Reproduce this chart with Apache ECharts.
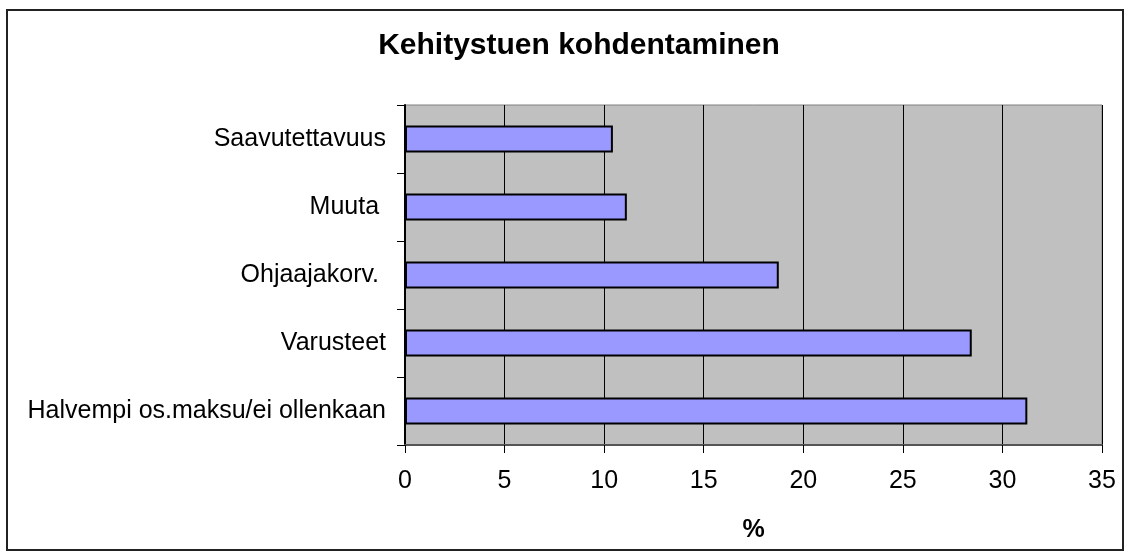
<!DOCTYPE html>
<html>
<head>
<meta charset="utf-8">
<script src="https://cdn.jsdelivr.net/npm/echarts@6/dist/echarts.min.js"></script>
<style>
  html, body { margin: 0; padding: 0; background: #fff; }
  #chart { width: 1130px; height: 560px; }
</style>
</head>
<body>
<div id="chart"></div>
<script type="text/javascript">
    // bottom to top, as ECharts lays out a category y axis
    var categories = ['Halvempi os.maksu/ei ollenkaan', 'Varusteet', 'Ohjaajakorv. ', 'Muuta ', 'Saavutettavuus'];
    var values = [31.25, 28.46, 18.77, 11.14, 10.44];
    var xTicks = [0, 5, 10, 15, 20, 25, 30, 35];

    var chart = echarts.init(document.getElementById('chart'));
    var font = '"Liberation Sans", Arial, sans-serif';

    var option = {
        animation: false,
        backgroundColor: '#fff',
        title: {
            text: 'Kehitystuen kohdentaminen',
            left: 574,
            top: 26,
            textAlign: 'center',
            textStyle: {
                fontFamily: font,
                fontSize: 30,
                fontWeight: 'bold',
                color: '#000'
            }
        },
        graphic: [{
            type: 'rect',
            shape: { x: 7, y: 10, width: 1116, height: 540 },
            style: { fill: 'none', stroke: '#222', lineWidth: 2 },
            z: 100
        }],
        grid: {
            left: 405,
            right: 28,
            top: 105,
            bottom: 115,
            show: true,
            backgroundColor: '#c0c0c0',
            borderColor: '#808080',
            borderWidth: 1
        },
        xAxis: {
            type: 'value',
            min: xTicks[0],
            max: xTicks[xTicks.length - 1],
            interval: 5,
            name: '%',
            nameLocation: 'middle',
            nameGap: 73,
            nameTextStyle: {
                fontFamily: font,
                fontSize: 25,
                fontWeight: 'bold',
                color: '#000'
            },
            axisLine: { show: true, lineStyle: { color: '#555', width: 2 } },
            axisTick: { show: true, length: 8, lineStyle: { color: '#000' } },
            axisLabel: {
                margin: 24,
                fontFamily: font,
                fontSize: 25,
                color: '#000'
            },
            splitLine: { show: true, lineStyle: { color: '#000', width: 1 } }
        },
        yAxis: {
            type: 'category',
            data: categories,
            axisLine: { show: true, lineStyle: { color: '#000', width: 2 } },
            axisTick: { show: true, length: 8, lineStyle: { color: '#000' } },
            axisLabel: {
                margin: 19,
                fontFamily: font,
                fontSize: 25,
                color: '#000'
            },
            splitLine: { show: false }
        },
        series: [{
            type: 'bar',
            data: values,
            barWidth: 27,
            itemStyle: {
                color: '#9999ff',
                borderColor: '#000',
                borderWidth: 2
            }
        }]
    };
    chart.setOption(option);
</script>
</body>
</html>
